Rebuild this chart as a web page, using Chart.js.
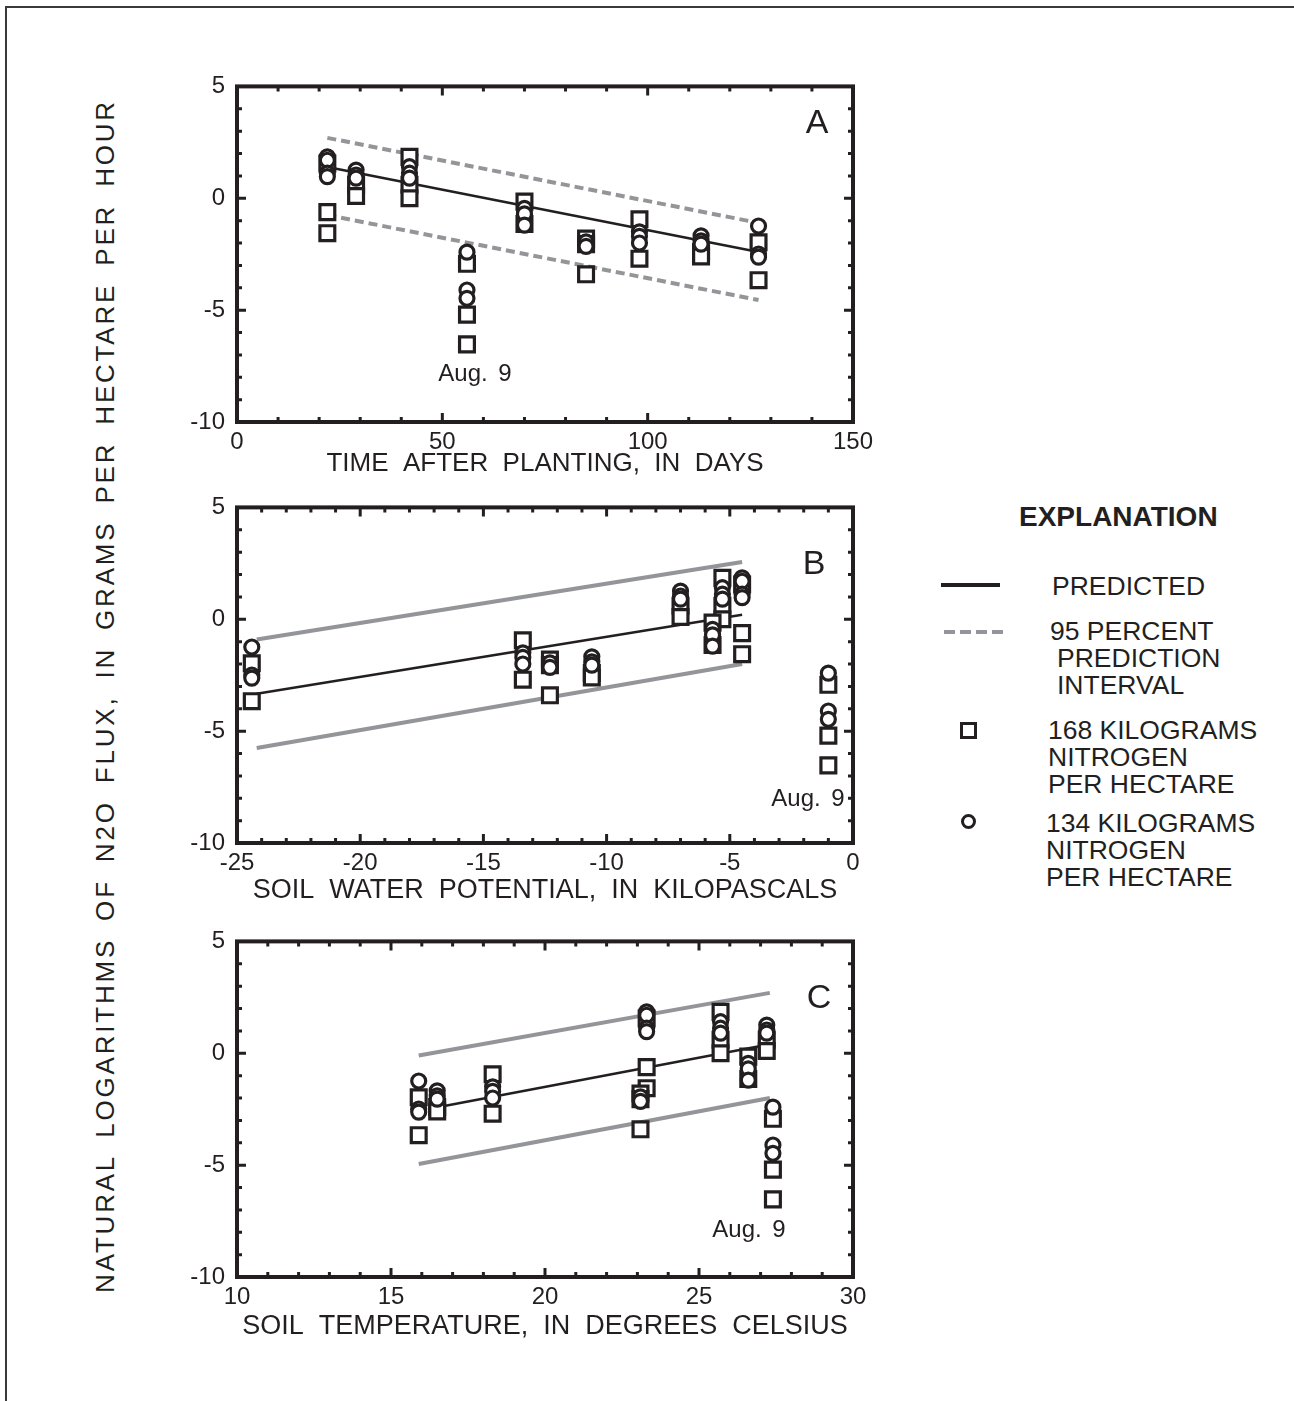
<!DOCTYPE html>
<html>
<head>
<meta charset="utf-8">
<title>N2O flux regressions</title>
<script src="https://cdn.jsdelivr.net/npm/chart.js@4.4.0/dist/chart.umd.min.js"></script>
<style>
  body { margin: 0; background: #fff; width: 1294px; height: 1401px; position: relative; overflow: hidden;
         font-family: 'Liberation Sans', Arial, Helvetica, sans-serif; color: #231f20; }
  #frame { position: absolute; left: 5px; top: 6px; width: 1400px; height: 1500px;
           border-top: 2px solid #3a3a3a; border-left: 2px solid #3a3a3a; }
  .panel { position: absolute; left: 180px; width: 700px; height: 440px; }
  .tag { position: absolute; transform: translate(-50%, -50%); white-space: nowrap; }
  .letter { font-size: 34px; }
  .note { font-size: 24px; word-spacing: 4px; }
  #ytitle { position: absolute; left: 105px; top: 696px; transform: translate(-50%, -50%) rotate(-90deg);
            font-size: 26px; letter-spacing: 2.8px; word-spacing: 7px; white-space: nowrap; }
  .lg { position: absolute; font-size: 26.5px; line-height: 26px; white-space: nowrap; }
</style>
</head>
<body>
<div id="frame"></div>

<div id="ytitle">NATURAL LOGARITHMS OF N2O FLUX, IN GRAMS PER HECTARE PER HOUR</div>

<div class="panel" style="top:60px"><canvas id="chartA" width="700" height="440"></canvas></div>
<div class="panel" style="top:481px"><canvas id="chartB" width="700" height="440"></canvas></div>
<div class="panel" style="top:915px"><canvas id="chartC" width="700" height="440"></canvas></div>

<div class="tag letter" style="left:817px;top:121px">A</div>
<div class="tag letter" style="left:814px;top:562px">B</div>
<div class="tag letter" style="left:819px;top:996px">C</div>
<div class="tag note" style="left:475px;top:373px">Aug. 9</div>
<div class="tag note" style="left:808px;top:798px">Aug. 9</div>
<div class="tag note" style="left:749px;top:1229px">Aug. 9</div>

<!-- explanation -->
<div class="lg" style="left:1019px;top:503px;font-weight:bold;font-size:28px;line-height:28px">EXPLANATION</div>
<div style="position:absolute;left:941px;top:583px;width:59px;height:4px;background:#231f20"></div>
<div class="lg" style="left:1052px;top:573px">PREDICTED</div>
<svg style="position:absolute;left:944px;top:628px" width="62" height="8">
  <line x1="0" y1="4" x2="60" y2="4" stroke="#939598" stroke-width="4" stroke-dasharray="11 5"/>
</svg>
<div class="lg" style="left:1050px;top:618px">95 PERCENT</div>
<div class="lg" style="left:1057px;top:645px">PREDICTION</div>
<div class="lg" style="left:1057px;top:672px">INTERVAL</div>
<div style="position:absolute;left:960px;top:722px;width:11px;height:11px;border:3px solid #231f20"></div>
<div class="lg" style="left:1048px;top:717px">168 KILOGRAMS</div>
<div class="lg" style="left:1048px;top:744px">NITROGEN</div>
<div class="lg" style="left:1048px;top:771px">PER HECTARE</div>
<div style="position:absolute;left:961px;top:814px;width:9px;height:9px;border:3px solid #231f20;border-radius:50%"></div>
<div class="lg" style="left:1046px;top:810px">134 KILOGRAMS</div>
<div class="lg" style="left:1046px;top:837px">NITROGEN</div>
<div class="lg" style="left:1046px;top:864px">PER HECTARE</div>

<script>
// ── Data ─────────────────────────────────────────────────────────────────────
// one entry per sampling date; the 4th one (day 56) is Aug. 9
const daysAfterPlanting  = [22, 29, 42, 56, 70, 85, 98, 113, 127];
const soilWaterPotential = [-4.5, -7.0, -5.3, -1.0, -5.7, -12.3, -13.4, -10.6, -24.4];
const soilTemperature    = [23.3, 27.2, 25.7, 27.4, 26.6, 23.1, 18.3, 16.5, 15.9];

// ln N2O flux, 168 kg N/ha plots (squares)
const flux168 = [
  [1.55, -0.62, -1.56], [0.6, 0.1], [1.85, 0.6, 0.0], [-2.93, -5.2, -6.53],
  [-0.15, -1.15], [-1.8, -2.05, -3.4], [-0.94, -2.7], [-2.4, -2.6], [-1.97, -3.66]
];
// ln N2O flux, 134 kg N/ha plots (circles)
const flux134 = [
  [1.85, 1.7, 1.12, 0.97], [1.26, 1.04, 0.9], [1.41, 1.12, 0.9], [-2.41, -4.1, -4.47],
  [-0.45, -0.7, -1.2], [-1.95, -2.15], [-1.5, -1.7, -2.0], [-1.68, -1.9, -2.05], [-1.24, -2.49, -2.63]
];

// regression line end points
const daysEnds   = [22, 127];
const predictedA = [1.4, -2.4];
const upperA     = [2.7, -1.1];
const lowerA     = [-0.75, -4.55];

const swpEnds    = [-24.2, -4.5];
const predictedB = [-3.33, 0.2];
const upperB     = [-0.9, 2.56];
const lowerB     = [-5.75, -2.0];

const tempEnds     = [16.3, 27.3];
const tempBandEnds = [15.9, 27.3];
const predictedC   = [-2.47, 0.4];
const upperC       = [-0.1, 2.7];
const lowerC       = [-4.95, -2.0];

const yTicks = [-10, -5, 0, 5];

// ── Styles ──────────────────────────────────────────────────────────────────
const INK  = '#231f20';
const GREY = '#939598';
const FONT = "'Liberation Sans', Arial, Helvetica, sans-serif";

function pts(xs, ys) { return xs.map((x, i) => ({ x, y: ys[i] })); }
function scatterPts(xs, groups) { return xs.flatMap((x, i) => groups[i].map(y => ({ x, y }))); }

// frame + inward ticks on all four sides
const frameTicks = {
  id: 'frameTicks',
  afterDatasetsDraw(chart, args, opts) {
    const { ctx, chartArea: a, scales: { x, y } } = chart;
    ctx.save();
    ctx.strokeStyle = INK;
    ctx.lineWidth = 3;
    ctx.beginPath();
    const nx = Math.round((x.max - x.min) / opts.xMinor);
    for (let i = 0; i <= nx; i++) {
      const px = x.getPixelForValue(x.min + i * opts.xMinor);
      const len = (i * opts.xMinor) % opts.xMajor === 0 ? 9 : 5;
      ctx.moveTo(px, a.bottom); ctx.lineTo(px, a.bottom - len);
      ctx.moveTo(px, a.top);    ctx.lineTo(px, a.top + len);
    }
    const ny = Math.round(y.max - y.min);
    for (let i = 0; i <= ny; i++) {
      const py = y.getPixelForValue(y.min + i);
      const len = i % 5 === 0 ? 9 : 5;
      ctx.moveTo(a.left, py);  ctx.lineTo(a.left + len, py);
      ctx.moveTo(a.right, py); ctx.lineTo(a.right - len, py);
    }
    ctx.stroke();
    ctx.lineWidth = 4;
    ctx.strokeRect(a.left, a.top, a.right - a.left, a.bottom - a.top);
    ctx.restore();
  }
};

function makePanel(id, p) {
  const lineDs = (data, color, width, dash) => ({
    type: 'line', data, borderColor: color, borderWidth: width, borderDash: dash || [],
    pointRadius: 0, fill: false, order: 3
  });
  new Chart(document.getElementById(id), {
    type: 'scatter',
    data: {
      datasets: [
        lineDs(pts(p.bandX, p.upper), GREY, 4, p.dash),
        lineDs(pts(p.bandX, p.lower), GREY, 4, p.dash),
        lineDs(pts(p.lineX, p.pred), INK, 2.5),
        { data: scatterPts(p.xs, flux168), pointStyle: 'rect', pointRadius: 10.5,
          borderColor: INK, backgroundColor: '#fff', borderWidth: 3.2, order: 2 },
        { data: scatterPts(p.xs, flux134), pointStyle: 'circle', pointRadius: 7,
          borderColor: INK, backgroundColor: '#fff', borderWidth: 3.2, order: 1 }
      ]
    },
    options: {
      responsive: false,
      animation: false,
      events: [],
      layout: { padding: { top: 22, right: 27, bottom: 0, left: 0 } },
      plugins: { legend: { display: false }, tooltip: { enabled: false }, frameTicks: p.ticks },
      scales: {
        x: {
          type: 'linear', min: p.xMin, max: p.xMax,
          grid: { display: false, drawTicks: false }, border: { display: false },
          afterFit: s => { s.height = 78; },
          ticks: { stepSize: p.xStep, autoSkip: false, maxRotation: 0, padding: 6,
                   color: INK, font: { family: FONT, size: 24 } },
          title: { display: true, text: p.title, color: INK, padding: { top: 0, bottom: p.titlePad },
                   font: { family: FONT, size: p.titleSize } }
        },
        y: {
          min: -10, max: 5,
          grid: { display: false, drawTicks: false }, border: { display: false },
          afterFit: s => { s.width = 57; },
          afterBuildTicks: s => { s.ticks = yTicks.map(v => ({ value: v })); },
          ticks: { padding: 12, color: INK, font: { family: FONT, size: 24 } }
        }
      }
    },
    plugins: [frameTicks]
  });
}

// ── Panels ──────────────────────────────────────────────────────────────────
makePanel('chartA', {
  xs: daysAfterPlanting, xMin: 0, xMax: 150, xStep: 50,
  lineX: daysEnds, pred: predictedA, bandX: daysEnds, upper: upperA, lower: lowerA, dash: [9, 5],
  title: 'TIME  AFTER  PLANTING,  IN  DAYS', titleSize: 26, titlePad: 21,
  ticks: { xMinor: 10, xMajor: 50 }
});
makePanel('chartB', {
  xs: soilWaterPotential, xMin: -25, xMax: 0, xStep: 5,
  lineX: swpEnds, pred: predictedB, bandX: swpEnds, upper: upperB, lower: lowerB,
  title: 'SOIL  WATER  POTENTIAL,  IN  KILOPASCALS', titleSize: 27, titlePad: 14,
  ticks: { xMinor: 1, xMajor: 5 }
});
makePanel('chartC', {
  xs: soilTemperature, xMin: 10, xMax: 30, xStep: 5,
  lineX: tempEnds, pred: predictedC, bandX: tempBandEnds, upper: upperC, lower: lowerC,
  title: 'SOIL  TEMPERATURE,  IN  DEGREES  CELSIUS', titleSize: 27, titlePad: 12,
  ticks: { xMinor: 1, xMajor: 5 }
});
</script>
</body>
</html>
